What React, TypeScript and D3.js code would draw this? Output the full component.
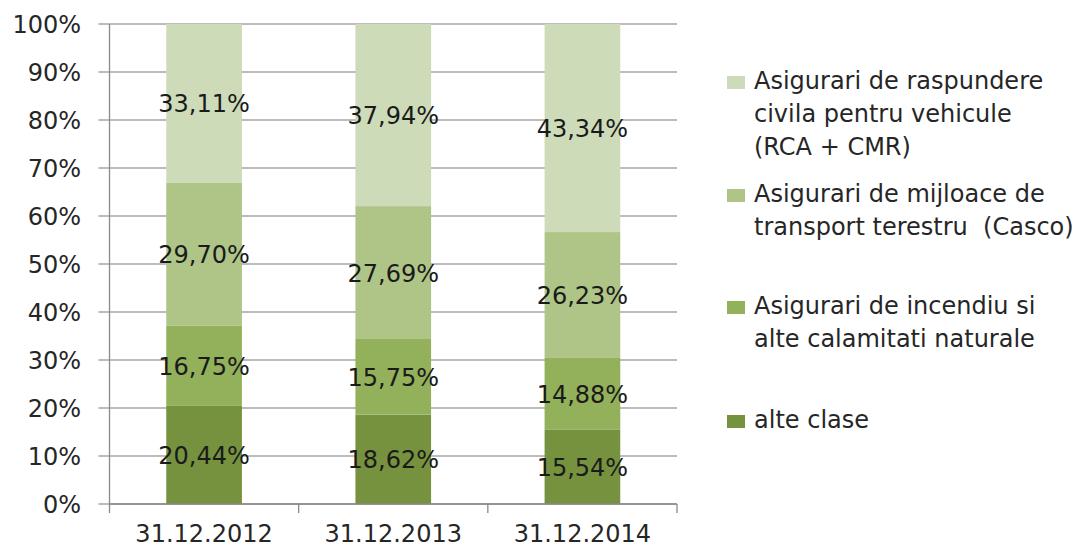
import React from "react";
import * as d3 from "d3";

const categories = ["31.12.2012", "31.12.2013", "31.12.2014"];
const seriesNames = [
  "alte clase",
  "Asigurari de incendiu si alte calamitati naturale",
  "Asigurari de mijloace de transport terestru (Casco)",
  "Asigurari de raspundere civila pentru vehicule (RCA + CMR)",
];
const alteClase = [20.44, 18.62, 15.54];
const incendiu = [16.75, 15.75, 14.88];
const casco = [29.7, 27.69, 26.23];
const rca = [33.11, 37.94, 43.34];
const yTicks = [0, 10, 20, 30, 40, 50, 60, 70, 80, 90, 100];

const legendLines = [
  ["Asigurari de raspundere", "civila pentru vehicule", "(RCA + CMR)"],
  ["Asigurari de mijloace de", "transport terestru  (Casco)"],
  ["Asigurari de incendiu si", "alte calamitati naturale"],
  ["alte clase"],
];

const colors = ["#77923E", "#93B05A", "#AEC587", "#CEDBB8"];
const legendColors = ["#CEDBB8", "#AEC587", "#93B05A", "#77923E"];

const W = 1077;
const H = 548;
const left = 109.5;
const right = 677;
const top = 24;
const bottom = 504;
const FONT = "'DejaVu Sans', sans-serif";
const FS = 24;

export default function App() {
  const series = [alteClase, incendiu, casco, rca];
  const rows = categories.map((c, i) => ({
    cat: c,
    v: series.map((s) => s[i]),
  }));
  const stackData = rows.map((r) => {
    const total = d3.sum(r.v);
    const o: any = { cat: r.cat };
    r.v.forEach((val, k) => (o["s" + k] = (val / total) * 100));
    return o;
  });
  const keys = series.map((_, k) => "s" + k);
  const stacked = d3.stack<any>().keys(keys)(stackData);

  const x = d3.scaleBand<string>().domain(categories).range([left, right]).paddingInner(0.6).paddingOuter(0.3);
  const xb = d3.scaleBand<string>().domain(categories).range([left, right]);
  const y = d3.scaleLinear().domain([0, 100]).range([bottom, top]);

  const fmt = (v: number) => v.toFixed(2).replace(".", ",") + "%";
  const legendY = [89, 202, 314, 428];
  const lineH = 33;

  return (
    <svg width={W} height={H} style={{ position: "absolute", left: 0, top: 0, background: "#fff" }} fontFamily={FONT}>
      {yTicks.map((t) => (
        <line key={"g" + t} x1={left - 11} x2={right} y1={y(t)} y2={y(t)} stroke="#A6A6A6" strokeWidth={1.3} />
      ))}
      {stacked.map((layer, k) =>
        layer.map((d, i) => (
          <rect
            key={k + "-" + i}
            x={x(categories[i])}
            width={x.bandwidth()}
            y={y(d[1])}
            height={y(d[0]) - y(d[1])}
            fill={colors[k]}
          />
        ))
      )}
      <line x1={left} x2={left} y1={top} y2={bottom + 9} stroke="#898989" strokeWidth={1.3} />
      <line x1={left} x2={right} y1={bottom} y2={bottom} stroke="#898989" strokeWidth={1.3} />
      {categories.map((c) => (
        <line key={"xt" + c} x1={(xb(c) as number) + xb.bandwidth()} x2={(xb(c) as number) + xb.bandwidth()} y1={bottom} y2={bottom + 9} stroke="#898989" strokeWidth={1.3} />
      ))}
      {yTicks.map((t) => (
        <text key={"yl" + t} x={81} y={y(t) + 8.5} textAnchor="end" fontSize={FS} fill="#262626">
          {t + "%"}
        </text>
      ))}
      {categories.map((c) => (
        <text key={"xl" + c} x={(xb(c) as number) + xb.bandwidth() / 2} y={542} textAnchor="middle" fontSize={FS} fill="#262626">
          {c}
        </text>
      ))}
      {stacked.map((layer, k) =>
        layer.map((d, i) => (
          <text
            key={"dl" + k + "-" + i}
            x={(x(categories[i]) as number) + x.bandwidth() / 2}
            y={(y(d[0]) + y(d[1])) / 2 + 9}
            textAnchor="middle"
            fontSize={FS}
            fill="#1a1a1a"
          >
            {fmt(series[k][i])}
          </text>
        ))
      )}
      {legendLines.map((lines, k) => (
        <g key={"lg" + k}>
          <rect x={727} y={legendY[k] - 13} width={18} height={13} fill={legendColors[k]} />
          {lines.map((ln, j) => (
            <text key={j} x={754} y={legendY[k] + j * lineH} fontSize={FS} fill="#262626" style={{ whiteSpace: "pre" }}>
              {ln}
            </text>
          ))}
        </g>
      ))}
    </svg>
  );
}
